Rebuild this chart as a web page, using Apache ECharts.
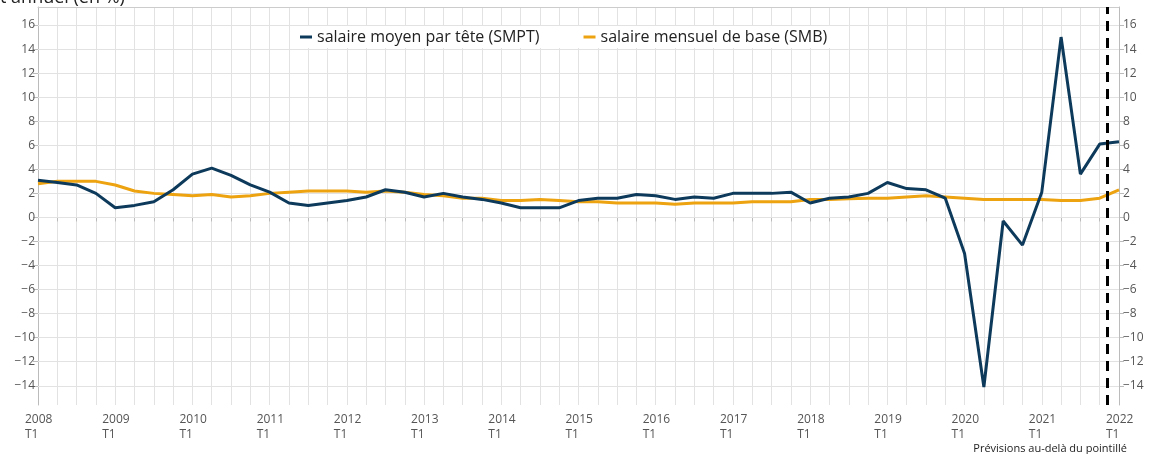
<!DOCTYPE html>
<html>
<head>
<meta charset="utf-8">
<script src="https://cdn.jsdelivr.net/npm/echarts@6/dist/echarts.min.js"></script>
<style>
  html, body { margin: 0; padding: 0; background: #fff; }
  #chart { width: 1149px; height: 454px; }
</style>
</head>
<body>
<div id="chart"></div>
<script>
// trimestres 2008 T1 -> 2022 T1
var years = [2008, 2009, 2010, 2011, 2012, 2013, 2014, 2015, 2016, 2017, 2018, 2019, 2020, 2021, 2022];
var quarterNames = ["T1", "T2", "T3", "T4"];

// glissement annuel, en %
var smpt = [3.1, 2.9, 2.7, 2.0, 0.8, 1.0, 1.3, 2.3, 3.6, 4.1, 3.5, 2.7, 2.1, 1.2, 1.0, 1.2,
  1.4, 1.7, 2.3, 2.1, 1.7, 2.0, 1.7, 1.5, 1.2, 0.8, 0.8, 0.8, 1.4, 1.6, 1.6, 1.9,
  1.8, 1.5, 1.7, 1.6, 2.0, 2.0, 2.0, 2.1, 1.2, 1.6, 1.7, 2.0, 2.9, 2.4, 2.3, 1.6,
  -3.0, -14.1, -0.3, -2.3, 2.1, 15.0, 3.6, 6.1, 6.3];
var smb = [2.8, 3.0, 3.0, 3.0, 2.7, 2.2, 2.0, 1.9, 1.8, 1.9, 1.7, 1.8, 2.0, 2.1, 2.2, 2.2,
  2.2, 2.1, 2.2, 2.1, 1.9, 1.8, 1.6, 1.6, 1.4, 1.4, 1.5, 1.4, 1.3, 1.3, 1.2, 1.2,
  1.2, 1.1, 1.2, 1.2, 1.2, 1.3, 1.3, 1.3, 1.5, 1.5, 1.55, 1.6, 1.6, 1.7, 1.8, 1.7,
  1.6, 1.5, 1.5, 1.5, 1.5, 1.4, 1.4, 1.6, 2.3];

var yTicks = [-14, -12, -10, -8, -6, -4, -2, 0, 2, 4, 6, 8, 10, 12, 14, 16];
var forecastStart = 55.4; // position du pointillé (en trimestres depuis 2008 T1)

var categories = [];
years.forEach(function (y) {
  quarterNames.forEach(function (q) {
    if (categories.length < smpt.length) categories.push(y + " " + q);
  });
});

var FONT = "Open Sans";
var gridColor = "#e2e2e2";

function yLabel(v) {
  return String(v).replace("-", "\u2212");
}

var chart = echarts.init(document.getElementById("chart"));
var option = {
  animation: false,
  textStyle: { fontFamily: FONT },
  grid: { left: 38, right: 30, top: 7, bottom: 49 },
  graphic: [
    {
      type: "text",
      left: 0,
      top: -11,
      style: { text: "t annuel (en %)", font: "18px " + FONT, fill: "#222" }
    },
    {
      type: "text",
      right: 22,
      top: 443,
      style: { text: "Prévisions au-delà du pointillé", font: "11px " + FONT, fill: "#222" }
    }
  ],
  legend: {
    data: ["salaire moyen par tête (SMPT)", "salaire mensuel de base (SMB)"],
    left: 290,
    top: 26,
    padding: [3, 10],
    backgroundColor: "#fff",
    icon: "rect",
    itemWidth: 12,
    itemHeight: 3,
    itemGap: 44,
    textStyle: { fontSize: 16, color: "#222", fontFamily: FONT }
  },
  xAxis: [
    {
      type: "category",
      data: categories,
      boundaryGap: false,
      axisLine: { lineStyle: { color: "#bbb" } },
      axisTick: { interval: 0, length: 4, lineStyle: { color: "#bbb" } },
      splitLine: { show: true, interval: 0, lineStyle: { color: gridColor } },
      axisLabel: {
        interval: function (idx) { return idx % 4 === 0; },
        margin: 7,
        formatter: function (v) {
          var p = v.split(" ");
          return "{a|" + p[0] + "}\n{a|" + p[1] + "}";
        },
        rich: {
          a: { width: 26, align: "left", fontSize: 12, lineHeight: 15, color: "#555", fontFamily: FONT }
        }
      }
    },
    {
      type: "value",
      position: "top",
      min: 0,
      max: smpt.length - 1,
      axisLine: { show: true, onZero: false, lineStyle: { color: "#ccc" } },
      axisTick: { show: false },
      axisLabel: { show: false },
      splitLine: { show: false }
    }
  ],
  yAxis: [
    {
      type: "value",
      position: "left",
      min: -15.6,
      max: 17.5,
      axisLine: { show: true, lineStyle: { color: "#bbb" } },
      axisTick: { show: true, length: 5, customValues: yTicks, lineStyle: { color: "#bbb" } },
      axisLabel: { customValues: yTicks, margin: 3, fontSize: 12, color: "#555", formatter: yLabel },
      splitLine: { show: false }
    },
    {
      type: "value",
      position: "right",
      min: -15.6,
      max: 17.5,
      axisLine: { show: true, lineStyle: { color: "#bbb" } },
      axisTick: { show: true, length: 5, customValues: yTicks, lineStyle: { color: "#bbb" } },
      axisLabel: { customValues: yTicks, margin: 4, fontSize: 12, color: "#555", formatter: yLabel },
      splitLine: { show: false }
    }
  ],
  series: [
    {
      // lignes horizontales de la grille, aux graduations
      name: "grille",
      type: "line",
      data: [],
      silent: true,
      z: 1,
      markLine: {
        silent: true,
        z: 1,
        symbol: "none",
        label: { show: false },
        lineStyle: { color: gridColor, width: 1, type: "solid" },
        data: yTicks.map(function (v) { return { yAxis: v }; })
      }
    },
    {
      name: "salaire mensuel de base (SMB)",
      type: "line",
      data: smb,
      symbol: "none",
      z: 2,
      lineStyle: { color: "#eda20f", width: 3 },
      itemStyle: { color: "#eda20f" }
    },
    {
      name: "salaire moyen par tête (SMPT)",
      type: "line",
      data: smpt,
      symbol: "none",
      z: 3,
      lineStyle: { color: "#0d3a5b", width: 3 },
      itemStyle: { color: "#0d3a5b" }
    },
    {
      name: "pointillé",
      type: "line",
      xAxisIndex: 1,
      yAxisIndex: 0,
      data: [],
      silent: true,
      z: 4,
      markLine: {
        silent: true,
        z: 6,
        symbol: "none",
        label: { show: false },
        lineStyle: { color: "#000", width: 3, type: [10, 7] },
        data: [{ xAxis: forecastStart }]
      }
    }
  ]
};
chart.setOption(option);
</script>
</body>
</html>
